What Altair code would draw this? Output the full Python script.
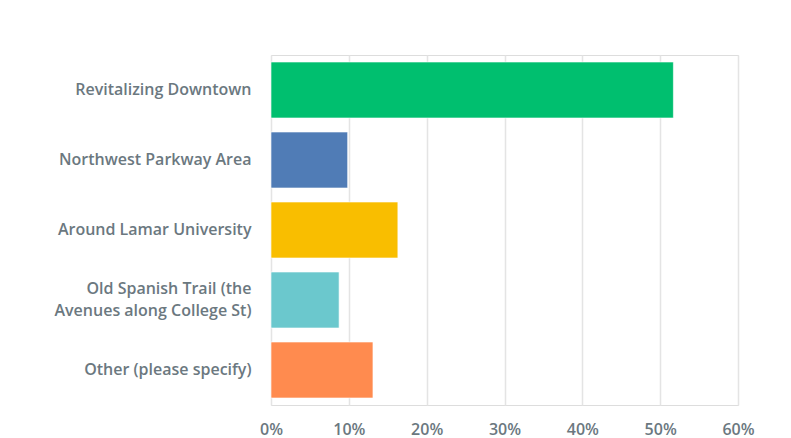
import altair as alt
import pandas as pd

categories = [
    "Revitalizing Downtown",
    "Northwest Parkway Area",
    "Around Lamar University",
    "Old Spanish Trail (the\nAvenues along College St)",
    "Other (please specify)",
]
values = [0.517, 0.0985, 0.163, 0.0875, 0.131]
colors = ["#00BF6F", "#507CB6", "#F9BE00", "#6BC8CD", "#FF8B4F"]
x_ticks = [0, 0.1, 0.2, 0.3, 0.4, 0.5, 0.6]

df = pd.DataFrame({"category": categories, "value": values})

font = "Open Sans"
label_color = "#6B787F"

chart = (
    alt.Chart(df)
    .mark_bar(stroke="white", strokeWidth=1, strokeOpacity=0.6)
    .encode(
        y=alt.Y(
            "category:N",
            sort=categories,
            title=None,
            scale=alt.Scale(paddingInner=0.2, paddingOuter=0.1),
            axis=alt.Axis(
                labelExpr="split(datum.label, '\\n')",
                labelFont=font,
                labelFontSize=16,
                labelFontWeight=600,
                labelColor=label_color,
                labelLineHeight=22,
                labelPadding=20,
                labelLimit=300,
                labelOffset={
                    "condition": {"test": "indexof(datum.value, 'Old Spanish') == 0", "value": -11},
                    "value": 0,
                },
                ticks=False,
                domain=False,
                grid=False,
            ),
        ),
        x=alt.X(
            "value:Q",
            title=None,
            scale=alt.Scale(domain=[0, 0.6], nice=False),
            axis=alt.Axis(
                values=x_ticks,
                format=".0%",
                labelFont=font,
                labelFontSize=16,
                labelFontWeight=600,
                labelColor=label_color,
                labelPadding=16,
                labelFlush=False,
                ticks=False,
                domain=False,
                grid=True,
                gridColor="#E4E4E4",
                gridWidth=1.5,
            ),
        ),
        color=alt.Color(
            "category:N",
            scale=alt.Scale(domain=categories, range=colors),
            legend=None,
        ),
    )
    .properties(
        width=467,
        height=350,
        autosize=alt.AutoSizeParams(type="none"),
        padding={"left": 263, "top": 47, "right": 45, "bottom": 40},
    )
    .configure_view(stroke=None)
    .configure(background="white")
)

chart.save("out.html", embed_options={"renderer": "svg", "actions": False})
